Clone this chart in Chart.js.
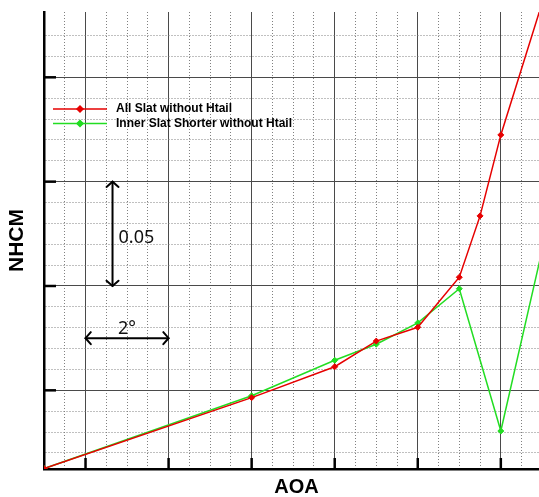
<!DOCTYPE html>
<html>
<head>
<meta charset="utf-8">
<title>NHCM vs AOA</title>
<script src="https://cdn.jsdelivr.net/npm/chart.js@4.4.1/dist/chart.umd.min.js"></script>
<style>
  html, body { margin: 0; padding: 0; background: #fff; overflow: hidden; }
  #wrap { width: 539px; height: 497px; overflow: hidden; }
</style>
</head>
<body>
<div id="wrap"><canvas id="nhcmChart" width="554" height="497"></canvas></div>
<script>
// DATA
const seriesLabels = ["All Slat without Htail", "Inner Slat Shorter without Htail"];
const aoaAllSlat = [-1, 4, 6, 7, 8, 9, 9.5, 10, 11];
const nhcmAllSlat = [-0.0375, -0.0035, 0.0113, 0.0236, 0.0302, 0.0542, 0.0836, 0.1224, 0.186];
const aoaInnerSlat = [-1, 4, 6, 7, 8, 9, 10, 11];
const nhcmInnerSlat = [-0.0375, -0.0026, 0.0144, 0.0221, 0.0323, 0.0487, -0.0195, 0.0677];

// grid steps (the axes carry no numbers, only the scale bars below)
const aoaMinorStep = 0.5;
const aoaMajorStep = 2;
const nhcmMinorStep = 0.01;
const nhcmMajorStep = 0.05;

// scale bars
const nhcmBar = { text: "0.05", at: 0.65, from: 0.05, to: 0.1 };
const aoaBar = { text: "2°", at: 0.025, from: 0, to: 2 };

const seriesColors = ["#e60000", "#22dd22"];

// HELPERS
const toPoints = (xs, ys) => xs.map((x, i) => ({ x, y: ys[i] }));
const isMultiple = (v, step) => Math.abs(v / step - Math.round(v / step)) < 1e-6;

function gridColor(minor, major) {
  return (ctx) => {
    if (!ctx.tick) return "#000";
    const v = ctx.tick.value;
    if (!isMultiple(v, minor)) return "rgba(0,0,0,0)";
    return isMultiple(v, major) ? "#4a4a4a" : "#808080";
  };
}

function gridDash(major) {
  return (ctx) => {
    if (!ctx.tick) return [];
    return isMultiple(ctx.tick.value, major) ? [] : [1, 2];
  };
}

const titleFont = { family: "'Liberation Sans', Arial, sans-serif", size: 20, weight: "bold", lineHeight: 1 };

function drawArrow(ctx, x1, y1, x2, y2) {
  const head = 8;
  const spread = 0.85;
  ctx.beginPath();
  ctx.moveTo(x1, y1);
  ctx.lineTo(x2, y2);
  ctx.stroke();
  [[x1, y1, x2, y2], [x2, y2, x1, y1]].forEach(([tx, ty, fx, fy]) => {
    const a = Math.atan2(ty - fy, tx - fx);
    ctx.beginPath();
    ctx.moveTo(tx - head * Math.cos(a - spread), ty - head * Math.sin(a - spread));
    ctx.lineTo(tx, ty);
    ctx.lineTo(tx - head * Math.cos(a + spread), ty - head * Math.sin(a + spread));
    ctx.stroke();
  });
}

// PLUGINS
// short heavy marks on the axes at the major grid lines
const axisMarks = {
  id: "axisMarks",
  afterDatasetsDraw(chart) {
    const { ctx, chartArea, scales } = chart;
    ctx.save();
    ctx.strokeStyle = "#000";
    ctx.lineWidth = 2.5;
    scales.x.ticks.filter((t) => isMultiple(t.value, aoaMajorStep)).forEach((t) => {
      const px = scales.x.getPixelForValue(t.value);
      ctx.beginPath();
      ctx.moveTo(px, chartArea.bottom);
      ctx.lineTo(px, chartArea.bottom - 11);
      ctx.stroke();
    });
    scales.y.ticks.filter((t) => isMultiple(t.value, nhcmMajorStep)).forEach((t) => {
      const py = scales.y.getPixelForValue(t.value);
      ctx.beginPath();
      ctx.moveTo(chartArea.left, py);
      ctx.lineTo(chartArea.left + 12, py);
      ctx.stroke();
    });
    ctx.restore();
  },
};

// legend sitting inside the plot, top left
const insideLegend = {
  id: "insideLegend",
  afterDatasetsDraw(chart) {
    const { ctx, chartArea } = chart;
    ctx.save();
    ctx.font = "bold 12px 'Liberation Sans', Arial, sans-serif";
    ctx.textBaseline = "middle";
    chart.data.datasets.forEach((ds, i) => {
      const x0 = chartArea.left + 9;
      const y = chartArea.top + 97 + i * 14.5;
      ctx.strokeStyle = ds.borderColor;
      ctx.lineWidth = 1.5;
      ctx.beginPath();
      ctx.moveTo(x0, y);
      ctx.lineTo(x0 + 54, y);
      ctx.stroke();
      Chart.helpers.drawPoint(ctx, { pointStyle: "rectRot", radius: 3, borderWidth: 1 }, x0 + 27, y);
      ctx.fillStyle = ds.borderColor;
      ctx.fill();
      ctx.fillStyle = "#000";
      ctx.fillText(ds.label, x0 + 63, y);
    });
    ctx.restore();
  },
};

// double arrows marking one major step on each axis
const scaleBars = {
  id: "scaleBars",
  afterDatasetsDraw(chart) {
    const { ctx, scales } = chart;
    const { x, y } = scales;
    ctx.save();
    ctx.strokeStyle = "#000";
    ctx.lineWidth = 2;
    ctx.lineCap = "round";
    const vx = x.getPixelForValue(nhcmBar.at);
    drawArrow(ctx, vx, y.getPixelForValue(nhcmBar.to), vx, y.getPixelForValue(nhcmBar.from));
    const hy = y.getPixelForValue(aoaBar.at);
    drawArrow(ctx, x.getPixelForValue(aoaBar.from), hy, x.getPixelForValue(aoaBar.to), hy);

    ctx.fillStyle = "#111";
    ctx.font = "18px 'Noto Sans', 'DejaVu Sans', sans-serif";
    ctx.textBaseline = "alphabetic";
    ctx.textAlign = "left";
    ctx.fillText(nhcmBar.text, vx + 6, y.getPixelForValue((nhcmBar.from + nhcmBar.to) / 2) + 9);
    ctx.textAlign = "center";
    ctx.fillText(aoaBar.text, x.getPixelForValue((aoaBar.from + aoaBar.to) / 2), hy - 4);
    ctx.restore();
  },
};

// CHART
new Chart(document.getElementById("nhcmChart"), {
  type: "line",
  data: {
    datasets: [
      {
        label: seriesLabels[0],
        data: toPoints(aoaAllSlat, nhcmAllSlat),
        borderColor: seriesColors[0],
        backgroundColor: seriesColors[0],
      },
      {
        label: seriesLabels[1],
        data: toPoints(aoaInnerSlat, nhcmInnerSlat),
        borderColor: seriesColors[1],
        backgroundColor: seriesColors[1],
      },
    ].map((ds) => ({
      ...ds,
      borderWidth: 1.5,
      pointStyle: "rectRot",
      pointRadius: 3,
      pointBorderWidth: 1,
      pointBorderColor: ds.borderColor,
      pointBackgroundColor: ds.borderColor,
      tension: 0,
      fill: false,
    })),
  },
  options: {
    responsive: false,
    animation: false,
    devicePixelRatio: 1,
    layout: { padding: { left: 0, top: 12, right: 0, bottom: 0 } },
    plugins: {
      legend: { display: false },
      tooltip: { enabled: false },
    },
    scales: {
      x: {
        type: "linear",
        min: -1,
        max: 11.16,
        ticks: { display: false, stepSize: aoaMinorStep, maxTicksLimit: 1000 },
        grid: { color: gridColor(aoaMinorStep, aoaMajorStep), lineWidth: 1, drawTicks: false },
        border: { display: true, color: "#000", width: 2.5, dash: gridDash(aoaMajorStep) },
        title: { display: true, text: "AOA", color: "#000", font: titleFont, padding: { top: 8, bottom: 0 } },
      },
      y: {
        type: "linear",
        min: -0.0377,
        max: 0.1813,
        ticks: { display: false, stepSize: nhcmMinorStep, maxTicksLimit: 1000 },
        grid: { color: gridColor(nhcmMinorStep, nhcmMajorStep), lineWidth: 1, drawTicks: false },
        border: { display: true, color: "#000", width: 2.5, dash: gridDash(nhcmMajorStep) },
        title: { display: true, text: "NHCM", color: "#000", font: { ...titleFont, size: 21 }, padding: { top: 7, bottom: 16 } },
      },
    },
  },
  plugins: [axisMarks, insideLegend, scaleBars],
});
</script>
</body>
</html>
